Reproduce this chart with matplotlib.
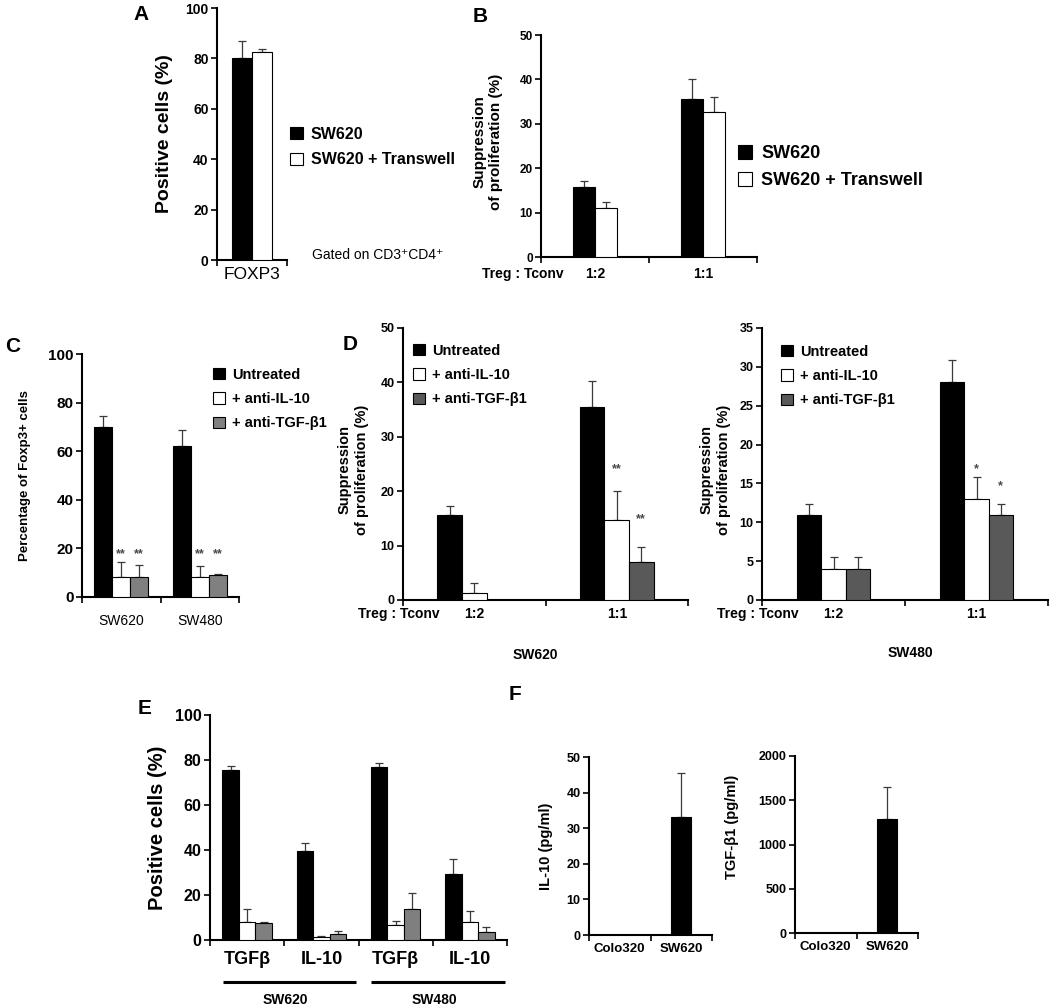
"""
Multi-panel bar figure: Treg FOXP3 expression, suppression assays and
cytokine production for SW620 / SW480 co-cultures (panels A-F).
"""

import matplotlib
matplotlib.use("Agg")
import matplotlib.pyplot as plt
import numpy as np
from matplotlib.transforms import blended_transform_factory

plt.rcParams["font.family"] = ["Liberation Sans", "DejaVu Sans"]
plt.rcParams["font.weight"] = "bold"
plt.rcParams["axes.linewidth"] = 1.5

FIG_W, FIG_H = 1050, 1007

# ---- data ----
A_MARKER = ["FOXP3"]
A_SW620 = [80.2]
A_SW620_ERR = [6.7]
A_TRANSWELL = [82.5]
A_TRANSWELL_ERR = [1.2]

B_RATIOS = ["1:2", "1:1"]
B_SW620 = [15.8, 35.5]
B_SW620_ERR = [1.3, 4.6]
B_TRANSWELL = [11.1, 32.7]
B_TRANSWELL_ERR = [1.2, 3.3]

C_LINES = ["SW620", "SW480"]
C_UNTREATED = [69.8, 62.3]
C_UNTREATED_ERR = [4.8, 6.4]
C_ANTI_IL10 = [8.4, 8.4]
C_ANTI_IL10_ERR = [6.1, 4.5]
C_ANTI_TGF = [8.4, 8.9]
C_ANTI_TGF_ERR = [4.8, 0.6]
C_STARS = ["**", "**"]
C_STAR_Y = 19.3

D_RATIOS = ["1:2", "1:1"]
D620_UNTREATED = [15.6, 35.4]
D620_UNTREATED_ERR = [1.6, 4.9]
D620_ANTI_IL10 = [1.2, 14.7]
D620_ANTI_IL10_ERR = [1.9, 5.4]
D620_ANTI_TGF = [0.0, 6.9]
D620_ANTI_TGF_ERR = [0.0, 2.8]
D620_STARS_IL10 = ["", "**"]
D620_STARS_TGF = ["", "**"]
D620_STAR_Y_IL10 = [0, 24.8]
D620_STAR_Y_TGF = [0, 15.6]

D480_UNTREATED = [10.9, 28.0]
D480_UNTREATED_ERR = [1.5, 2.9]
D480_ANTI_IL10 = [4.0, 13.0]
D480_ANTI_IL10_ERR = [1.5, 2.8]
D480_ANTI_TGF = [4.0, 10.9]
D480_ANTI_TGF_ERR = [1.5, 1.5]
D480_STARS_IL10 = ["", "*"]
D480_STARS_TGF = ["", "*"]
D480_STAR_Y_IL10 = [0, 17.4]
D480_STAR_Y_TGF = [0, 15.2]

E_CYTOKINES = ["TGFβ", "IL-10", "TGFβ", "IL-10"]
E_CELL_LINES = ["SW620", "SW480"]
E_BLACK = [75.6, 39.7, 77.0, 29.2]
E_BLACK_ERR = [1.9, 3.3, 1.8, 6.8]
E_WHITE = [8.1, 1.5, 6.7, 7.9]
E_WHITE_ERR = [5.5, 0.3, 1.9, 5.1]
E_GRAY = [7.7, 2.7, 13.6, 3.4]
E_GRAY_ERR = [0.4, 1.3, 7.4, 2.2]

F_LINES = ["Colo320", "SW620"]
F_IL10 = [0, 33.2]
F_IL10_ERR = [0, 12.2]
F_TGF = [0, 1288]
F_TGF_ERR = [0, 362]

BLACK = "#000000"
WHITE = "#ffffff"
GRAY_C = "#808080"
GRAY_D = "#595959"
GRAY_E = "#7f7f7f"
ERR_COLOR = "#3a3a3a"
STAR_COLOR = "#4a4a4a"


def px_axes(fig, left, right, top, bottom):
    return fig.add_axes([left / FIG_W, 1 - bottom / FIG_H,
                         (right - left) / FIG_W, (bottom - top) / FIG_H])


def fig_text(fig, x, y, s, **kw):
    kw.setdefault("ha", "center")
    kw.setdefault("va", "center")
    fig.text(x / FIG_W, 1 - y / FIG_H, s, **kw)


def bar_group(ax, series, errors, colors, width):
    n = len(series)
    x = np.arange(len(series[0]))
    bars, centers = [], []
    for i, (vals, err, col) in enumerate(zip(series, errors, colors)):
        xs = x + (i - (n - 1) / 2) * width
        vals = np.asarray(vals, float)
        err = np.asarray(err, float)
        b = ax.bar(xs, vals, width, color=col, edgecolor="black",
                   linewidth=0.8, zorder=3)
        keep = (vals + err) > 0
        ax.errorbar(xs[keep], vals[keep],
                    yerr=[np.zeros(keep.sum()), err[keep]], fmt="none",
                    ecolor=ERR_COLOR, elinewidth=0.9, capsize=3,
                    capthick=0.9, zorder=2)
        bars.append(b)
        centers.append(xs)
    return bars, centers


def style(ax, cats, ymax, ystep, tick_fs, cat_fs, cat_pad, cat_weight="bold"):
    n = len(cats)
    ax.spines[["top", "right"]].set_visible(False)
    ax.set_xlim(-0.5, n - 0.5)
    ax.set_ylim(0, ymax)
    ax.set_yticks(np.arange(0, ymax + ystep / 2, ystep))
    ax.tick_params(axis="y", direction="out", length=4, width=1.2,
                   labelsize=tick_fs, pad=2)
    ax.set_xticks(np.arange(n + 1) - 0.5, labels=[""] * (n + 1))
    ax.tick_params(axis="x", which="major", direction="out", length=4, width=1.2)
    ax.set_xticks(np.arange(n), minor=True)
    ax.set_xticklabels(cats, minor=True, fontsize=cat_fs, fontweight=cat_weight)
    ax.tick_params(axis="x", which="minor", length=0, pad=cat_pad)


def ylabel(ax, x, y, s, fs, linespacing=1.2):
    ax.text(x, y, s, transform=ax.transAxes, rotation=90, ha="center",
            va="center", fontsize=fs, fontweight="bold",
            linespacing=linespacing, multialignment="center")


def legend_px(fig, ax, handles, labels, x, ymid, fs, spacing):
    ax.legend(handles, labels, loc="center left",
              bbox_to_anchor=(x / FIG_W, 1 - ymid / FIG_H),
              bbox_transform=fig.transFigure, frameon=False,
              prop={"size": fs, "weight": "bold"}, handlelength=0.8,
              handleheight=0.8, handletextpad=0.5, borderpad=0,
              borderaxespad=0, labelspacing=spacing)


def stars(ax, xs, ys, marks, fs):
    for x, y, m in zip(xs, ys, marks):
        if m:
            ax.annotate(m, (x, y), xytext=(0, -0.58 * fs),
                        textcoords="offset points", ha="center",
                        va="baseline", fontsize=fs, color=STAR_COLOR,
                        annotation_clip=False)


fig = plt.figure(figsize=(FIG_W / 100, FIG_H / 100), dpi=100)

# ---- A ----
axA = px_axes(fig, 217, 287, 8, 260)
barsA, _ = bar_group(axA, [A_SW620, A_TRANSWELL], [A_SW620_ERR, A_TRANSWELL_ERR],
                     [BLACK, WHITE], 0.286)
style(axA, A_MARKER, 100, 20, 10, 12.5, 5, cat_weight="normal")
ylabel(axA, -0.75, 0.5, "Positive cells (%)", 14)
legend_px(fig, axA, barsA, ["SW620", "SW620 + Transwell"], 290, 147, 11.5, 0.66)
fig_text(fig, 312, 255, "Gated on CD3⁺CD4⁺", ha="left", fontsize=10,
         fontweight="normal")
fig_text(fig, 141, 15, "A", fontsize=15)

# ---- B ----
axB = px_axes(fig, 541, 757, 35, 257)
barsB, _ = bar_group(axB, [B_SW620, B_TRANSWELL], [B_SW620_ERR, B_TRANSWELL_ERR],
                     [BLACK, WHITE], 0.208)
style(axB, B_RATIOS, 50, 10, 8.5, 10, 7)
ylabel(axB, -0.245, 0.52, "Suppression\nof proliferation (%)", 11)
axB.text(-0.083, -0.045, "Treg : Tconv", transform=axB.transAxes, ha="center",
         va="top", fontsize=10)
legend_px(fig, axB, barsB, ["SW620", "SW620 + Transwell"], 738, 167, 13, 0.52)
fig_text(fig, 480, 17, "B", fontsize=15)

# ---- C ----
axC = px_axes(fig, 82, 239, 354, 597)
barsC, xsC = bar_group(axC, [C_UNTREATED, C_ANTI_IL10, C_ANTI_TGF],
                       [C_UNTREATED_ERR, C_ANTI_IL10_ERR, C_ANTI_TGF_ERR],
                       [BLACK, WHITE, GRAY_C], 0.23)
style(axC, C_LINES, 100, 20, 11, 10, 12, cat_weight="normal")
ylabel(axC, -0.363, 0.5, "Percentage of Foxp3+ cells", 9.5)
stars(axC, xsC[1], [C_STAR_Y] * 2, C_STARS, 9)
stars(axC, xsC[2], [C_STAR_Y] * 2, C_STARS, 9)
legend_px(fig, axC, barsC, ["Untreated", "+ anti-IL-10", "+ anti-TGF-β1"],
          213, 399, 10.5, 0.7)
fig_text(fig, 13, 347, "C", fontsize=15)

# ---- D (SW620) ----
axD1 = px_axes(fig, 403, 688, 328, 600)
barsD1, xsD1 = bar_group(axD1, [D620_UNTREATED, D620_ANTI_IL10, D620_ANTI_TGF],
                         [D620_UNTREATED_ERR, D620_ANTI_IL10_ERR, D620_ANTI_TGF_ERR],
                         [BLACK, WHITE, GRAY_D], 0.172)
style(axD1, D_RATIOS, 50, 10, 9, 10, 5)
ylabel(axD1, -0.175, 0.478, "Suppression\nof proliferation (%)", 10.5, 1.3)
axD1.text(-0.015, -0.026, "Treg : Tconv", transform=axD1.transAxes,
          ha="center", va="top", fontsize=10)
stars(axD1, xsD1[1], D620_STAR_Y_IL10, D620_STARS_IL10, 9)
stars(axD1, xsD1[2], D620_STAR_Y_TGF, D620_STARS_TGF, 9)
legend_px(fig, axD1, barsD1, ["Untreated", "+ anti-IL-10", "+ anti-TGF-β1"],
          413, 375, 10.5, 0.7)
fig_text(fig, 535, 655, "SW620", fontsize=10)
fig_text(fig, 350, 345, "D", fontsize=15)

# ---- D (SW480) ----
axD2 = px_axes(fig, 762, 1048, 328, 600)
barsD2, xsD2 = bar_group(axD2, [D480_UNTREATED, D480_ANTI_IL10, D480_ANTI_TGF],
                         [D480_UNTREATED_ERR, D480_ANTI_IL10_ERR, D480_ANTI_TGF_ERR],
                         [BLACK, WHITE, GRAY_D], 0.17)
style(axD2, D_RATIOS, 35, 5, 9, 10, 5)
ylabel(axD2, -0.164, 0.478, "Suppression\nof proliferation (%)", 10.5, 1.3)
axD2.text(-0.015, -0.026, "Treg : Tconv", transform=axD2.transAxes,
          ha="center", va="top", fontsize=10)
stars(axD2, xsD2[1], D480_STAR_Y_IL10, D480_STARS_IL10, 9)
stars(axD2, xsD2[2], D480_STAR_Y_TGF, D480_STARS_TGF, 9)
legend_px(fig, axD2, barsD2, ["Untreated", "+ anti-IL-10", "+ anti-TGF-β1"],
          781, 376, 10.5, 0.7)
fig_text(fig, 910, 653, "SW480", fontsize=10)

# ---- E ----
axE = px_axes(fig, 210, 507, 715, 940)
bar_group(axE, [E_BLACK, E_WHITE, E_GRAY], [E_BLACK_ERR, E_WHITE_ERR, E_GRAY_ERR],
          [BLACK, WHITE, GRAY_E], 0.222)
style(axE, E_CYTOKINES, 100, 20, 11.5, 13, 8)
ylabel(axE, -0.178, 0.5, "Positive cells (%)", 14.5)
trE = blended_transform_factory(axE.transData, axE.transAxes)
for g, name in enumerate(E_CELL_LINES):
    first = 2 * g
    axE.plot([first - 0.33, first + 1.47], [-0.187, -0.187], color="black",
             lw=2.2, transform=trE, clip_on=False, solid_capstyle="butt")
    axE.text(first + 0.52, -0.267, name, transform=trE, ha="center",
             va="center", fontsize=10)
fig_text(fig, 145, 708, "E", fontsize=15)

# ---- F ----
axF1 = px_axes(fig, 589, 712, 757, 935)
bar_group(axF1, [F_IL10], [F_IL10_ERR], [BLACK], 0.333)
style(axF1, F_LINES, 50, 10, 9, 9.5, 5.5)
ylabel(axF1, -0.35, 0.5, "IL-10 (pg/ml)", 10.5)

axF2 = px_axes(fig, 795, 918, 756, 933)
bar_group(axF2, [F_TGF], [F_TGF_ERR], [BLACK], 0.333)
style(axF2, F_LINES, 2000, 500, 9, 9.5, 5.5)
ylabel(axF2, -0.51, 0.6, "TGF-β1 (pg/ml)", 10.5)
fig_text(fig, 515, 695, "F", fontsize=15)

fig.savefig("out.png", dpi=100)
